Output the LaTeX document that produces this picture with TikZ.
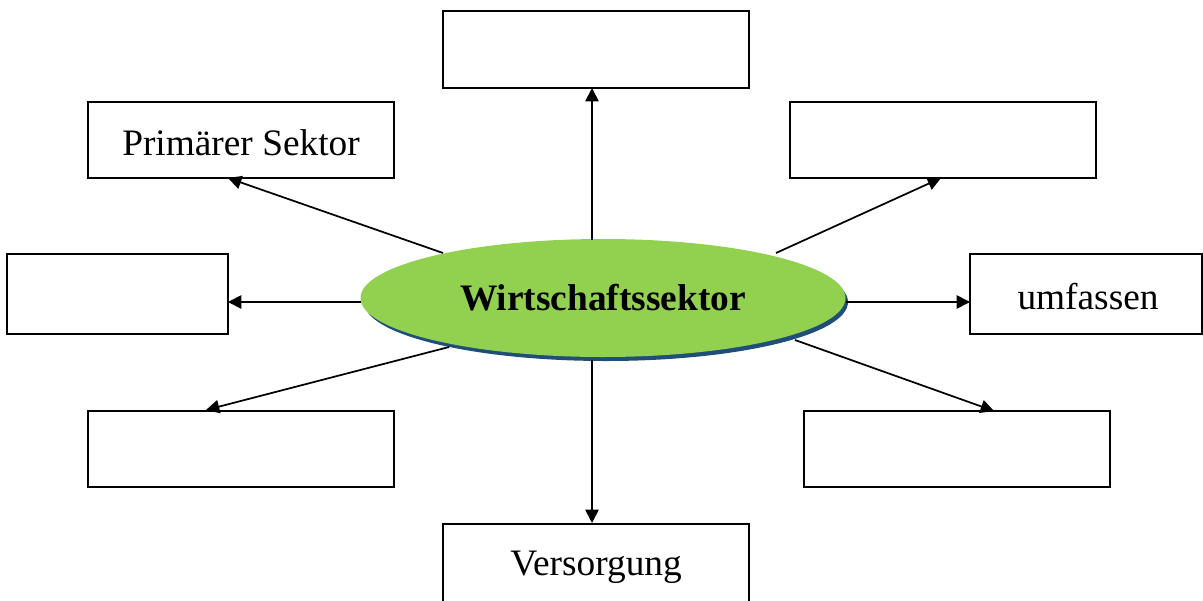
\documentclass[tikz,border=0pt]{standalone}
\usepackage{fontspec}
\setmainfont{Liberation Serif}
\usetikzlibrary{arrows.meta,shapes.geometric}
\definecolor{sectorgreen}{HTML}{92D050}
\definecolor{shadowblue}{HTML}{1F4E79}
\tikzset{
  box/.style={draw=black, line width=1.5pt, fill=white},
  boxtext/.style={font=\fontsize{28}{32}\selectfont, inner sep=0pt},
  link/.style={line width=1.3pt, -{Triangle[length=10pt,width=10pt]}},
}
\begin{document}
\begin{tikzpicture}[x=0.75pt,y=-0.75pt]
\useasboundingbox (0,0) rectangle (1203,600);
% central ellipse with offset shadow
\fill[shadowblue] (606,302) ellipse [x radius=242, y radius=59];
\node[ellipse, fill=sectorgreen, minimum width=363.75pt, minimum height=88.5pt, inner sep=0pt,
      font=\bfseries\fontsize{28}{32}\selectfont] (hub) at (603,298) {Wirtschaftssektor};
% surrounding boxes
\node[box, minimum width=229.5pt, minimum height=57.75pt] (top) at (596,49.5) {};
\node[box, minimum width=229.5pt, minimum height=57pt] (prim) at (241,140) {};
\node[box, minimum width=229.5pt, minimum height=57pt] (tr) at (943,140) {};
\node[box, minimum width=165.75pt, minimum height=60pt] (ml) at (117.5,294) {};
\node[box, minimum width=174pt, minimum height=60pt] (mr) at (1086,294) {};
\node[box, minimum width=229.5pt, minimum height=57pt] (bl) at (241,449) {};
\node[box, minimum width=229.5pt, minimum height=57pt] (br) at (957,449) {};
\node[box, minimum width=229.5pt, minimum height=75pt, anchor=north] (bot) at (596,523) {};
% box labels
\node[boxtext] (primlabel) at (241,143) {Primärer Sektor};
\node[boxtext] (mrlabel) at (1088,297) {umfassen};
\node[boxtext] (botlabel) at (596,567) {Versorgung};
% connector end points
\coordinate (sTop) at (592,240);
\coordinate (eTop) at (592,88);
\coordinate (sPrim) at (443,253);
\coordinate (ePrim) at (228,178);
\coordinate (sTR) at (776,253);
\coordinate (eTR) at (941,178);
\coordinate (sML) at (361,302);
\coordinate (eML) at (228,302);
\coordinate (sMR) at (846,302);
\coordinate (eMR) at (970,302);
\coordinate (sBL) at (449,347);
\coordinate (eBL) at (206,410);
\coordinate (sBR) at (795,340);
\coordinate (eBR) at (994,411);
\coordinate (sBot) at (592,360);
\coordinate (eBot) at (592,523);
% connectors
\draw[link] (sTop) -- (eTop);
\draw[link] (sPrim) -- (ePrim);
\draw[link] (sTR) -- (eTR);
\draw[link] (sML) -- (eML);
\draw[link] (sMR) -- (eMR);
\draw[link] (sBL) -- (eBL);
\draw[link] (sBR) -- (eBR);
\draw[link] (sBot) -- (eBot);
\end{tikzpicture}
\end{document}
